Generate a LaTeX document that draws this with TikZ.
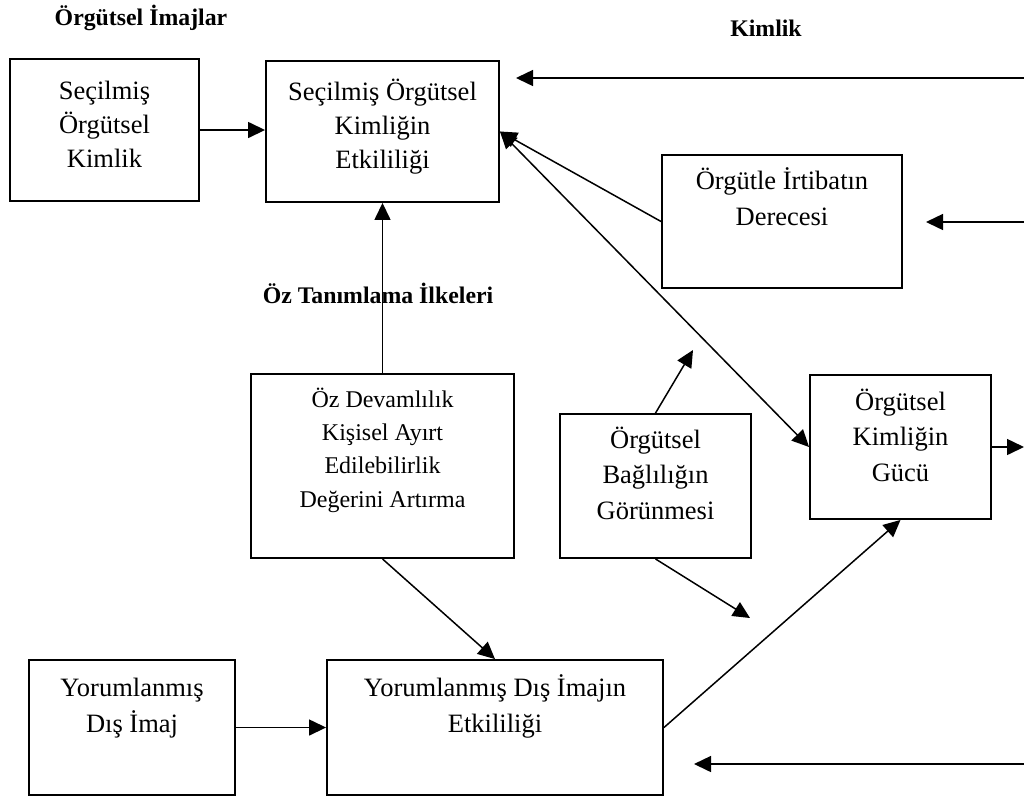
\documentclass[tikz,border=0pt]{standalone}
\usepackage{fontspec}
\setmainfont{Liberation Serif}
\usetikzlibrary{arrows.meta}
\begin{document}
\begin{tikzpicture}[x=1pt,y=-1pt,
  box/.style={draw, line width=1.9pt, rectangle, inner sep=0pt},
  txt/.style={align=center, anchor=base, inner sep=0pt, font=\fontsize{26.5}{35.5}\selectfont},
  txtnarrow/.style={txt, font=\fontsize{26.5}{34}\selectfont},
  txtsmall/.style={txt, font=\fontsize{24}{33.3}\selectfont},
  heading/.style={anchor=base, inner sep=0pt, font=\fontsize{23.8}{28}\selectfont\bfseries},
  tip/.tip={Triangle[length=17pt,width=16pt]},
  arr/.style={line width=1.5pt, -tip},
  darr/.style={line width=1.5pt, tip-tip}]
\useasboundingbox (0,0) rectangle (1024,796);

% headings
\node[heading] (hImaj) at (141,25) {Örgütsel İmajlar};
\node[heading] (hKim) at (766,36) {Kimlik};
\node[heading] (hOz) at (378,303) {Öz Tanımlama İlkeleri};

% boxes
\node[box, minimum width=189pt, minimum height=142pt] (A) at (104.5,130) {};
\node[box, minimum width=233pt, minimum height=141pt] (B) at (382.5,131.5) {};
\node[box, minimum width=240pt, minimum height=133pt] (C) at (782,221.5) {};
\node[box, minimum width=263pt, minimum height=184pt] (D) at (382.5,466) {};
\node[box, minimum width=191pt, minimum height=144pt] (E) at (655.5,486) {};
\node[box, minimum width=181pt, minimum height=144pt] (F) at (900.5,447) {};
\node[box, minimum width=336pt, minimum height=135pt] (G) at (495,727.5) {};
\node[box, minimum width=206pt, minimum height=135pt] (H) at (132,727.5) {};

% box texts (placed by the baseline of their last line)
\node[txtnarrow] (At) at (104.5,167) {Seçilmiş\\Örgütsel\\Kimlik};
\node[txtnarrow] (Bt) at (382.5,168) {Seçilmiş Örgütsel\\Kimliğin\\Etkililiği};
\node[txt] (Ct) at (782,225) {Örgütle İrtibatın\\Derecesi};
\node[txtsmall] (Dt) at (382.5,507) {Öz Devamlılık\\Kişisel Ayırt\\Edilebilirlik\\Değerini Artırma};
\node[txt] (Et) at (655.5,519) {Örgütsel\\Bağlılığın\\Görünmesi};
\node[txt] (Ft) at (900.5,481) {Örgütsel\\Kimliğin\\Gücü};
\node[txt] (Gt) at (495,732) {Yorumlanmış Dış İmajın\\Etkililiği};
\node[txt] (Ht) at (132,732) {Yorumlanmış\\Dış İmaj};

% free ends of connectors
\coordinate (kIn1) at (1024,78);
\coordinate (kOut1) at (516,78);
\coordinate (kIn2) at (1024,222);
\coordinate (kOut2) at (926,222);
\coordinate (kIn3) at (1024,764);
\coordinate (kOut3) at (694,764);
\coordinate (fOut) at (1024,447);
\coordinate (eUp) at (693,350);
\coordinate (eDown) at (750,618);

% connectors
\draw[arr] (A.east) -- (A.east -| B.west);
\draw[arr] (kIn1) -- (kOut1);
\draw[arr] (kIn2) -- (kOut2);
\draw[arr] (kIn3) -- (kOut3);
\draw[arr] (C.west) -- (B.east);
\draw[darr] (B.east) -- (F.west);
\draw[arr] (D.north) -- (B.south);
\draw[arr] (D.south) -- (G.north);
\draw[arr] (H.east) -- (H.east -| G.west);
\draw[arr] (G.east) -- (F.south);
\draw[arr] (E.north) -- (eUp);
\draw[arr] (E.south) -- (eDown);
\draw[arr] (F.east) -- (fOut);
\end{tikzpicture}
\end{document}
